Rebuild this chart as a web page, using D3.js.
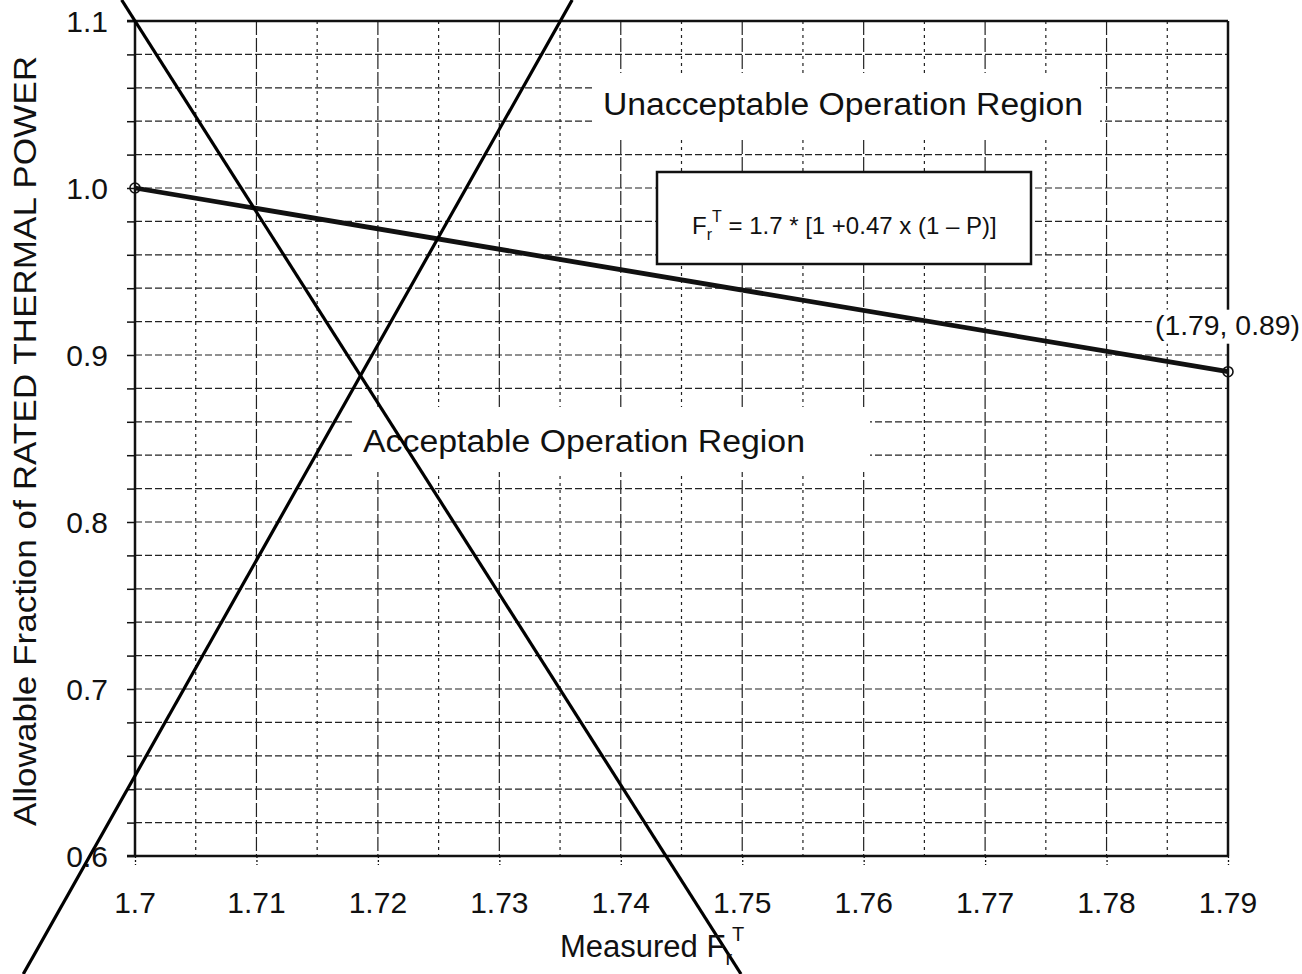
<!DOCTYPE html>
<html>
<head>
<meta charset="utf-8">
<script src="https://cdn.jsdelivr.net/npm/d3@7"></script>
<style>
  body { margin: 0; background: #fff; }
  text { font-family: "Liberation Sans", Arial, sans-serif; fill: #111; }
</style>
</head>
<body>
<svg id="chart" width="1302" height="974"></svg>
<script>
'use strict';

var xTicks = [1.7, 1.71, 1.72, 1.73, 1.74, 1.75, 1.76, 1.77, 1.78, 1.79];
var xTickLabels = ['1.7', '1.71', '1.72', '1.73', '1.74', '1.75', '1.76', '1.77', '1.78', '1.79'];
var yTicks = [0.6, 0.7, 0.8, 0.9, 1.0, 1.1];
var yTickLabels = ['0.6', '0.7', '0.8', '0.9', '1.0', '1.1'];

// limit line F = 1.7 * [1 + 0.47 (1 - P)]
var limitF = [1.7, 1.79];
var limitP = [1.0, 0.89];
var endLabel = '(1.79, 0.89)';

// the two strike-through lines drawn across the figure
var strikeA = [[1.6989, 1.1126], [1.7499, 0.5293]];
var strikeB = [[1.7360, 1.1126], [1.6908, 0.5293]];

var margin = { top: 21, right: 74, bottom: 118, left: 135 };
var width = 1302 - margin.left - margin.right;
var height = 974 - margin.top - margin.bottom;

var svg = d3.select('#chart');
var g = svg.append('g').attr('transform', 'translate(' + margin.left + ',' + margin.top + ')');

var x = d3.scaleLinear().domain([1.7, 1.79]).range([0, width]);
var y = d3.scaleLinear().domain([0.6, 1.1]).range([height, 0]);

// grid
var vGrid = d3.range(1, 18).map(function (i) { return 1.7 + i * 0.005; });
var hGrid = d3.range(1, 25).map(function (i) { return 0.6 + i * 0.02; });

g.append('g').selectAll('line').data(hGrid).enter()
    .append('line')
    .attr('x1', 0).attr('x2', width)
    .attr('y1', function (d) { return y(d); })
    .attr('y2', function (d) { return y(d); })
    .attr('stroke', '#222').attr('stroke-width', 1.2)
    .attr('stroke-dasharray', '7,3');

g.append('g').selectAll('line').data(vGrid).enter()
    .append('line')
    .attr('y1', 0).attr('y2', height)
    .attr('x1', function (d) { return x(d); })
    .attr('x2', function (d) { return x(d); })
    .attr('stroke', '#222').attr('stroke-width', 1.2)
    .attr('stroke-dasharray', function (d, i) { return i % 2 === 1 ? '14,3' : '3,4'; });

// white boxes behind the region labels
g.append('rect')
    .attr('x', 460).attr('y', 52).attr('width', 505).attr('height', 67)
    .attr('fill', '#fff');
g.append('rect')
    .attr('x', 220).attr('y', 386).attr('width', 515).attr('height', 65)
    .attr('fill', '#fff');

// axes: left / bottom with ticks, plus top and right frame
var yAxis = d3.axisLeft(y).tickValues(hGrid.concat([0.6, 1.1])).tickSize(8).tickFormat('');
g.append('g').call(yAxis).call(function (s) {
    s.select('.domain').remove();
    s.selectAll('line').attr('stroke', '#111').attr('stroke-width', 1.5);
});
var xAxis = d3.axisBottom(x).tickValues(xTicks).tickSize(9).tickFormat('');
g.append('g').attr('transform', 'translate(0,' + height + ')').call(xAxis).call(function (s) {
    s.select('.domain').remove();
    s.selectAll('line').attr('stroke', '#111').attr('stroke-width', 1.3).attr('stroke-dasharray', '2,2');
});

g.append('line').attr('x1', -8).attr('x2', width).attr('y1', 0).attr('y2', 0)
    .attr('stroke', '#111').attr('stroke-width', 2.5);
g.append('line').attr('x1', -8).attr('x2', width).attr('y1', height).attr('y2', height)
    .attr('stroke', '#111').attr('stroke-width', 2.5);
g.append('line').attr('x1', 0).attr('x2', 0).attr('y1', 0).attr('y2', height)
    .attr('stroke', '#111').attr('stroke-width', 2.5);
g.append('line').attr('x1', width).attr('x2', width).attr('y1', 0).attr('y2', height)
    .attr('stroke', '#111').attr('stroke-width', 2.5);

// tick labels
g.append('g').selectAll('text').data(yTicks).enter()
    .append('text')
    .attr('x', -27).attr('y', function (d) { return y(d); })
    .attr('dy', '0.36em').attr('text-anchor', 'end')
    .attr('font-size', 30)
    .text(function (d, i) { return yTickLabels[i]; });
g.append('g').selectAll('text').data(xTicks).enter()
    .append('text')
    .attr('x', function (d) { return x(d); }).attr('y', height + 57)
    .attr('text-anchor', 'middle')
    .attr('font-size', 30)
    .text(function (d, i) { return xTickLabels[i]; });

// axis titles
svg.append('text')
    .attr('transform', 'translate(36,441) rotate(-90)')
    .attr('text-anchor', 'middle').attr('font-size', 31)
    .attr('textLength', 770).attr('lengthAdjust', 'spacingAndGlyphs')
    .text('Allowable Fraction of RATED THERMAL POWER');

var xTitle = svg.append('text').attr('x', 560).attr('y', 957).attr('font-size', 31);
xTitle.append('tspan').text('Measured F');
xTitle.append('tspan').attr('font-size', 20).attr('dy', 8).text('r');
xTitle.append('tspan').attr('font-size', 20).attr('dy', -24).text('T');

// limit line and end markers
var line = d3.line().x(function (d) { return x(d[0]); }).y(function (d) { return y(d[1]); });
var limitData = limitF.map(function (f, i) { return [f, limitP[i]]; });
g.append('path').datum(limitData).attr('d', line)
    .attr('fill', 'none').attr('stroke', '#111').attr('stroke-width', 4.8);
g.selectAll('circle.marker').data(limitData).enter()
    .append('circle').attr('class', 'marker')
    .attr('cx', function (d) { return x(d[0]); })
    .attr('cy', function (d) { return y(d[1]); })
    .attr('r', 5).attr('fill', 'none').attr('stroke', '#111').attr('stroke-width', 1.6);
g.append('rect')
    .attr('x', x(limitF[1]) - 76).attr('y', y(limitP[1]) - 62)
    .attr('width', 150).attr('height', 34).attr('fill', '#fff');
g.append('text')
    .attr('x', x(limitF[1]) - 73).attr('y', y(limitP[1]) - 37)
    .attr('font-size', 27)
    .attr('textLength', 145).attr('lengthAdjust', 'spacingAndGlyphs')
    .text(endLabel);

// region labels
g.append('text').attr('x', 468).attr('y', 94).attr('font-size', 31)
    .attr('textLength', 480).attr('lengthAdjust', 'spacingAndGlyphs')
    .text('Unacceptable Operation Region');
g.append('text').attr('x', 228).attr('y', 431).attr('font-size', 31)
    .attr('textLength', 442).attr('lengthAdjust', 'spacingAndGlyphs')
    .text('Acceptable Operation Region');

// equation box
g.append('rect').attr('x', 522).attr('y', 151).attr('width', 374).attr('height', 92)
    .attr('fill', '#fff').attr('stroke', '#111').attr('stroke-width', 2.5);
var eq = g.append('text').attr('x', 557).attr('y', 213).attr('font-size', 24);
eq.append('tspan').text('F');
eq.append('tspan').attr('font-size', 16).attr('dy', 6).text('r');
eq.append('tspan').attr('font-size', 16).attr('dy', -18).text('T');
eq.append('tspan').attr('dy', 12).text(' = 1.7 * [1 +0.47 x (1 \u2013 P)]');

// strike-through lines
[strikeA, strikeB].forEach(function (s) {
    g.append('path').datum(s).attr('d', line)
        .attr('fill', 'none').attr('stroke', '#000').attr('stroke-width', 3.2);
});
</script>
</body>
</html>
